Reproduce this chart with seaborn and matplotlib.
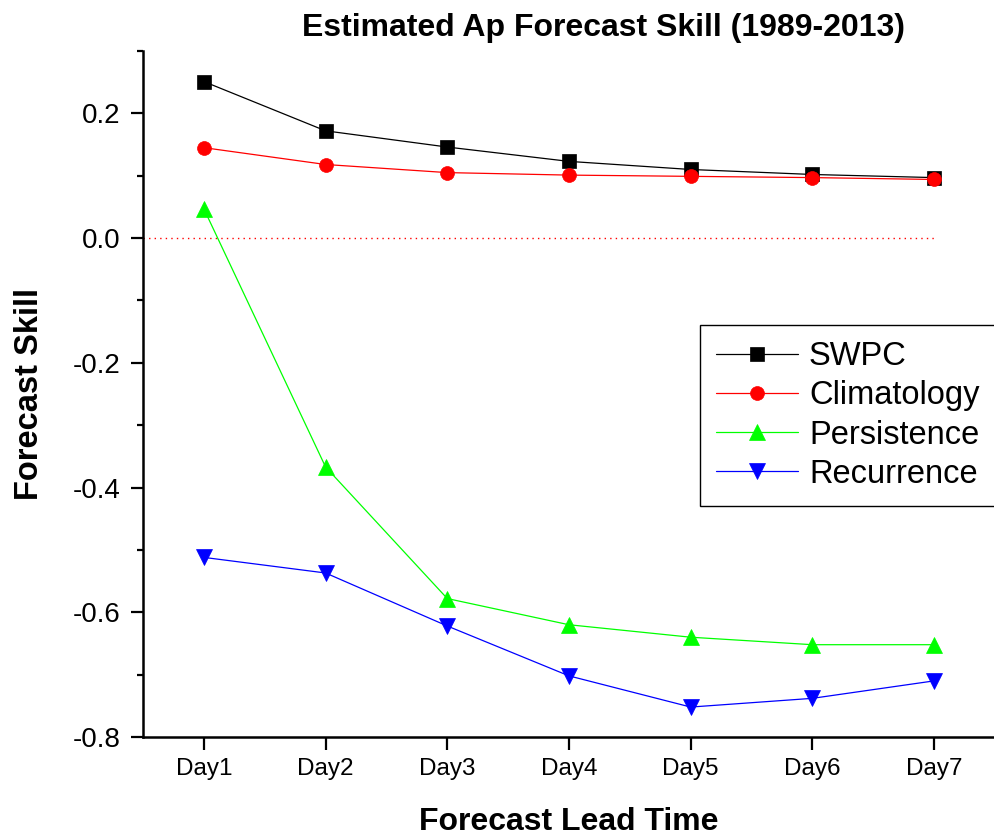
import pandas as pd
import matplotlib
matplotlib.use('Agg')
import matplotlib.pyplot as plt
import seaborn as sns


#Data
days = [1, 2, 3, 4, 5, 6, 7]
day_labels = ['Day1', 'Day2', 'Day3', 'Day4', 'Day5', 'Day6', 'Day7']
swpc = [0.251, 0.172, 0.146, 0.123, 0.110, 0.102, 0.097]
climatology = [0.145, 0.118, 0.105, 0.101, 0.099, 0.097, 0.094]
persistence = [0.047, -0.367, -0.578, -0.620, -0.640, -0.652, -0.652]
recurrence = [-0.512, -0.537, -0.622, -0.702, -0.752, -0.738, -0.710]

series_names = ['SWPC', 'Climatology', 'Persistence', 'Recurrence']
series_values = [swpc, climatology, persistence, recurrence]
colors = ['#000000', '#ff0000', '#00ff00', '#0000ff']
markers = ['s', 'o', '^', 'v']
msizes = [10, 10, 11.5, 11.5]


#Style
sns.set_style('ticks')
plt.rcParams['font.family'] = ['Liberation Sans', 'DejaVu Sans']
for key in ['text.color', 'axes.labelcolor', 'xtick.color', 'ytick.color', 'axes.edgecolor']:
    plt.rcParams[key] = 'black'

fig = plt.figure(figsize=(9.95, 8.36), dpi=100)
ax = fig.add_axes([143/995, 1-737/836, 852/995, (737-51)/836])

#Plot each series
for name, vals, c, m, s in zip(series_names, series_values, colors, markers, msizes):
    df = pd.DataFrame({'day': days, 'skill': vals})
    sns.lineplot(data=df, x='day', y='skill', ax=ax, color=c, marker=m,
                 markersize=s, markeredgecolor=c, markeredgewidth=0.5,
                 linewidth=0.9, label=name)

#Zero reference line
ax.hlines(0, 0.5, days[-1], colors='#ff0000', linestyles=(0, (1, 3)), linewidth=1.0, zorder=1)

#Axes limits and ticks
ax.set_xlim(0.5, 7.5)
ax.set_ylim(-0.8, 0.3)
ax.set_xticks(days)
ax.set_xticklabels(day_labels, fontsize=17.5)
ax.set_yticks([-0.8, -0.6, -0.4, -0.2, 0.0, 0.2])
ax.set_yticklabels(['-0.8', '-0.6', '-0.4', '-0.2', '0.0', '0.2'], fontsize=20)
ax.set_yticks([-0.7, -0.5, -0.3, -0.1, 0.1, 0.3], minor=True)
ax.tick_params(axis='both', which='major', direction='out', length=9, width=1.6, color='black')
ax.tick_params(axis='y', which='major', pad=7)
ax.tick_params(axis='x', which='major', pad=6)
ax.tick_params(axis='y', which='minor', direction='out', length=4.5, width=1.6, color='black')

sns.despine(ax=ax, top=True, right=True)
for sp in ['left', 'bottom']:
    ax.spines[sp].set_linewidth(1.8)
    ax.spines[sp].set_color('black')

#Labels
ax.set_xlabel('Forecast Lead Time', fontsize=23, fontweight='bold', va='center')
ax.xaxis.set_label_coords(0.5, (737-822)/686)
ax.set_ylabel('Forecast Skill', fontsize=23.5, fontweight='bold', va='center')
ax.yaxis.set_label_coords((30-143)/852, 0.5)
fig.text(604/995, 1-28/836, 'Estimated Ap Forecast Skill (1989-2013)',
         ha='center', va='center', fontsize=23, fontweight='bold')

#Legend (box runs past the right edge of the figure, as in the original)
leg = ax.legend(loc='upper left', bbox_to_anchor=((700-143)/852, (737-325)/686, 0.42, 0),
                mode='expand', borderaxespad=0, fontsize=23.5, frameon=True, fancybox=False,
                handlelength=2.5, labelspacing=0.25, borderpad=0.5, handletextpad=0.34)
leg.get_frame().set_edgecolor('black')
leg.get_frame().set_linewidth(1.0)
leg.get_frame().set_alpha(1)

fig.savefig('out.png', dpi=100)
